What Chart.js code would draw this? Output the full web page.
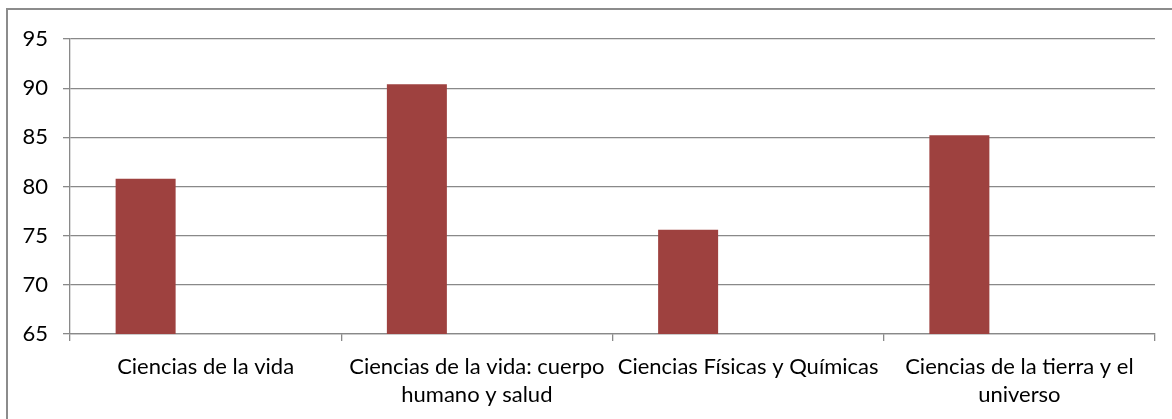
<!DOCTYPE html>
<html>
<head>
<meta charset="utf-8">
<script src="https://cdn.jsdelivr.net/npm/chart.js@4"></script>
<style>
  html, body { margin: 0; padding: 0; background: #fff; }
  #wrap { width: 1172px; height: 419px; position: relative; }
</style>
</head>
<body>
<div id="wrap"><canvas id="chart"></canvas></div>
<script>
var categories = [
    "Ciencias de la vida",
    ["Ciencias de la vida: cuerpo", "humano y salud"],
    "Ciencias Físicas y Químicas",
    ["Ciencias de la tierra y el", "universo"]
];
var seriesValues = [80.8, 90.4, 75.6, 85.2];
var yTicks = { min: 65, max: 95, step: 5 };

var gridGray = "#898989";

// outer frame like the spreadsheet chart box
var framePlugin = {
    id: 'frame',
    afterDraw: function(chart) {
        var ctx = chart.ctx;
        ctx.save();
        ctx.strokeStyle = "#8c8c8c";
        ctx.lineWidth = 2;
        ctx.strokeRect(7, 9, chart.width + 20, chart.height + 20);
        ctx.restore();
    }
};

var ctx = document.getElementById("chart");
var chartParams = {
    type: 'bar',
    data: {
        labels: categories,
        datasets: [{
            label: "Serie 1",
            backgroundColor: "#9e413f",
            borderWidth: 0,
            data: seriesValues
        },
        {
            label: "Serie 2",
            data: [null, null, null, null]
        },
        {
            label: "Serie 3",
            data: [null, null, null, null]
        }]
    },
    options: {
        responsive: true,
        maintainAspectRatio: false,
        animation: false,
        datasets: { bar: { categoryPercentage: 0.6636, barPercentage: 1 } },
        layout: { padding: { left: 0, right: 17, top: 39, bottom: 0 } },
        plugins: {
            legend: { display: false },
            tooltip: { enabled: false },
            title: { display: false }
        },
        scales: {
            x: {
                afterFit: function(s) { s.height = 85; },
                border: { display: true, color: gridGray, width: 1.3 },
                grid: {
                    offset: true,
                    drawOnChartArea: false,
                    drawTicks: true,
                    tickLength: 7,
                    lineWidth: 1.3,
                    color: gridGray
                },
                ticks: {
                    color: "#000",
                    padding: 12,
                    maxRotation: 0,
                    autoSkip: false,
                    font: { family: "Lato", size: 22, lineHeight: 1.27 }
                }
            },
            y: {
                min: yTicks.min,
                max: yTicks.max,
                afterFit: function(s) { s.width = 70; },
                border: { display: true, color: gridGray, width: 1.3 },
                grid: {
                    color: gridGray,
                    lineWidth: 1.3,
                    drawTicks: true,
                    tickLength: 7
                },
                ticks: {
                    stepSize: yTicks.step,
                    color: "#000",
                    padding: 15,
                    font: { family: "Lato", size: 22 }
                }
            }
        }
    },
    plugins: [framePlugin]
};

var myBarChart = new Chart(ctx, chartParams);
</script>
</body>
</html>
